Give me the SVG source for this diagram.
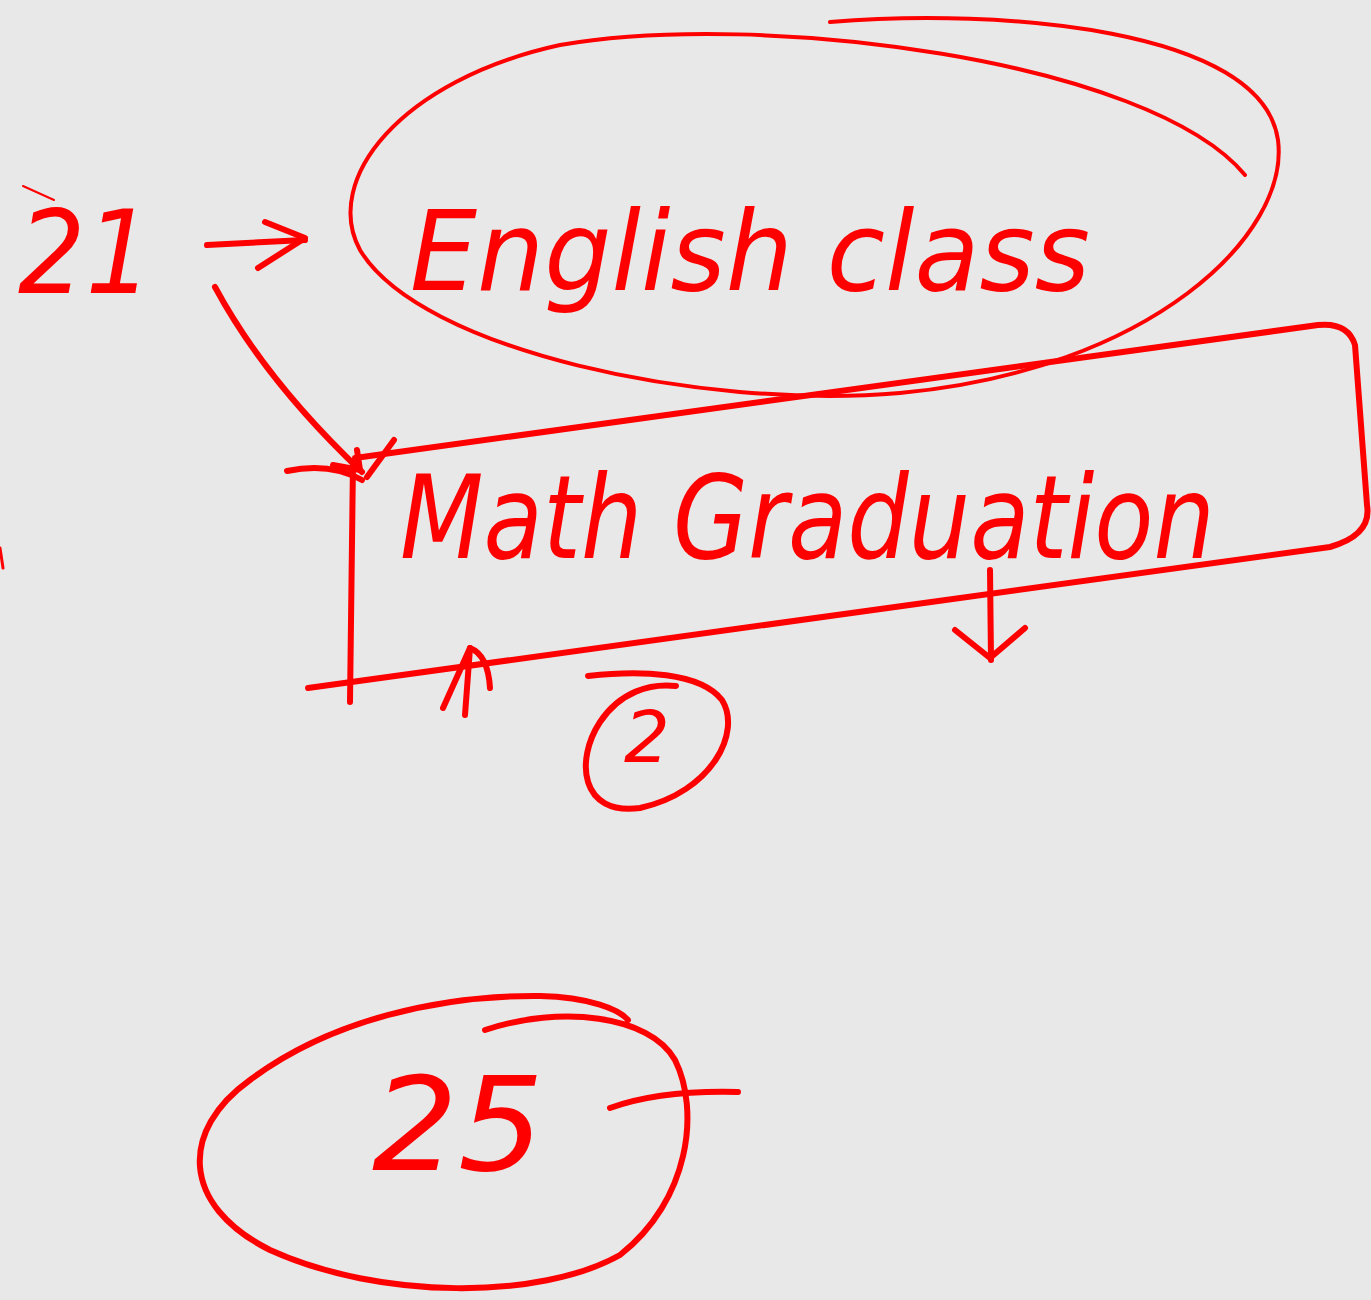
<svg xmlns="http://www.w3.org/2000/svg" width="1371" height="1300" viewBox="0 0 1371 1300">
<style>
.s{fill:none;stroke:#ff0000;stroke-width:6;stroke-linecap:round;stroke-linejoin:round}
.t{fill:#ff0000;font-family:"DejaVu Sans","Liberation Sans",sans-serif;font-style:italic}
</style>
<rect width="1371" height="1300" fill="#e8e8e8"/>
<g id="node-21">
<path class="s" d="M23 186 L54 200" style="stroke-width:2"/>
<text class="t" x="18" y="293" font-size="115" textLength="135" lengthAdjust="spacingAndGlyphs">21</text>
</g>
<g id="node-english">
<path class="s" d="M830 22 C1000 8 1262 28 1278 140 C1290 235 1150 370 900 393 C700 410 420 350 360 250 C322 180 400 80 560 45 C760 10 1150 60 1245 175" style="stroke-width:4"/>
<text class="t" x="410" y="290" font-size="110" textLength="680" lengthAdjust="spacingAndGlyphs">English class</text>
</g>
<g id="node-math">
<path class="s" d="M355 458 L1318 325 Q1348 322 1355 345 L1367 505 Q1372 535 1330 547 L308 688"/>
<path class="s" d="M353 462 L350 702"/>
<path class="s" d="M287 471 Q330 462 362 480"/>
<text class="t" x="400" y="558" font-size="115" textLength="815" lengthAdjust="spacingAndGlyphs">Math Graduation</text>
</g>
<g id="node-2">
<path class="s" d="M588 676 C640 670 700 672 722 700 C742 732 712 792 640 808 C580 816 575 760 600 722 C620 692 650 683 676 686"/>
<text class="t" x="624" y="762" font-size="72">2</text>
</g>
<g id="node-25">
<path class="s" d="M485 1030 C560 1005 650 1015 675 1060 C700 1110 690 1200 620 1255 C540 1300 380 1300 270 1250 C180 1205 180 1130 250 1080 C330 1020 440 995 540 996 C590 997 620 1010 628 1020"/>
<text class="t" x="372" y="1170" font-size="130" textLength="172" lengthAdjust="spacingAndGlyphs">25</text>
<path class="s" d="M610 1108 Q660 1090 738 1092"/>
</g>
<g id="connectors">
<path class="s" d="M207 245 L305 240"/>
<path class="s" d="M265 222 L305 238 L258 268"/>
<path class="s" d="M215 287 Q265 380 362 472"/>
<path class="s" d="M333 465 L360 470 L357 450"/>
<path class="s" d="M394 440 L367 477"/>
<path class="s" d="M465 715 L470 648"/>
<path class="s" d="M443 708 L470 648 Q488 655 490 688"/>
<path class="s" d="M990 570 L991 660"/>
<path class="s" d="M955 630 L990 658 L1025 628"/>
<path class="s" d="M0 548 L3 568" style="stroke-width:3"/>
</g>
</svg>
